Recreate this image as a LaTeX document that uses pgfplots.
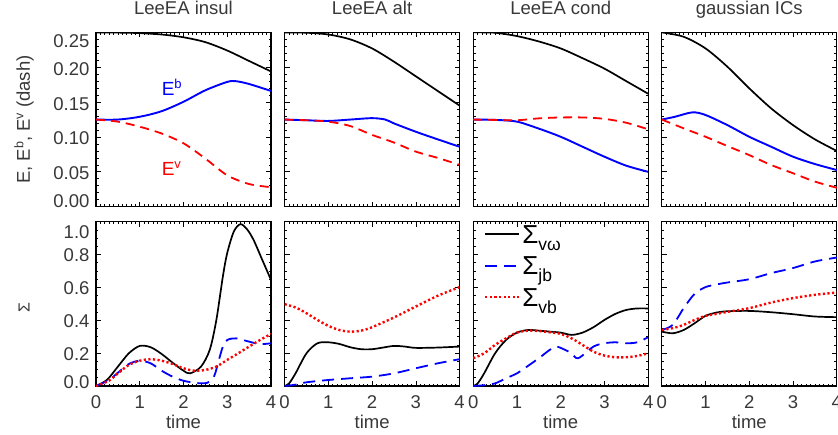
\documentclass[border=0pt]{standalone}
\usepackage{fontspec}
\setmainfont{Liberation Sans}
\usepackage{pgfplots}
\pgfplotsset{compat=1.18}
\definecolor{txt}{gray}{0.22}
\newcommand\yl[2]{\raisebox{#1}[0pt][0pt]{#2}}
\newcommand\sig[1]{{\fontsize{26}{28}\selectfont Σ}\raisebox{-7pt}{\fontsize{17.5}{18}\selectfont #1}}
\newcommand\supx[1]{\raisebox{6.5pt}{\fontsize{12.5}{13}\selectfont #1}}
\pgfplotsset{
 panel/.style={scale only axis, width=175pt, xmin=0, xmax=4, xtick={0,1,2,3,4}, minor x tick num=9,
   tick align=inside, xtick pos=both, ytick pos=both, major tick length=5pt, minor tick length=2.5pt,
   axis line style={line width=1.1pt, black}, every tick/.style={black, line width=0.7pt},
   tick label style={font=\fontsize{18.5}{21}\selectfont, text=txt},
   label style={font=\fontsize{18.5}{21}\selectfont, text=txt},
   title style={font=\fontsize{18.5}{21}\selectfont, text=txt, at={(axis description cs:0.5,1)}, anchor=base, yshift=12pt},
   yticklabel style={anchor=east, xshift=-3pt},
   xticklabel style={anchor=base, yshift=-22.5pt},
   xlabel style={at={(axis description cs:0.5,0)}, anchor=base, yshift=-42pt},
   ylabel style={at={(axis description cs:-0.411,0.5)}, anchor=center},
 },
 top/.style={panel, height=174.3pt, ymin=0, ymax=0.25, ytick={0,0.05,0.1,0.15,0.2,0.25}, minor y tick num=4, xticklabels={}, yticklabels={}},
 bot/.style={panel, height=164.3pt, ymin=0, ymax=1, ytick={0,0.2,0.4,0.6,0.8,1}, minor y tick num=3, xticklabels={0,1,2,3,4}, xlabel={time}, yticklabels={}},
 Eline/.style={black, line width=1.7pt, smooth},
 Ebline/.style={blue, line width=1.9pt, smooth},
 Evline/.style={red, line width=1.8pt, dash pattern=on 9pt off 6pt, smooth},
 vw/.style={black, line width=1.7pt, smooth},
 jb/.style={blue, line width=1.8pt, dash pattern=on 12pt off 7pt, smooth},
 vb/.style={red, line width=2.4pt, dash pattern=on 2.2pt off 2.4pt, smooth},
}
\begin{document}
\begin{tikzpicture}
\useasboundingbox (0pt,0pt) rectangle (838pt,-434pt);
% ---------------- top row ----------------
\begin{axis}[top, at={(96pt,-206.7pt)}, anchor=south west, title={LeeEA insul},
  yticklabels={\yl{-0.5pt}{0.00},\yl{-8pt}{0.05},\yl{-8pt}{0.10},\yl{-8pt}{0.15},\yl{-8pt}{0.20},\yl{-15.5pt}{0.25}},
  ylabel={E, E\supx{b}, E\supx{v} (dash)}]
\addplot[Eline] coordinates {(0,0.25)(0.5,0.2497)(1,0.249)(1.5,0.247)(2,0.243)(2.5,0.236)(3,0.224)(3.5,0.209)(4,0.194)};
\addplot[Ebline] coordinates {(0,0.125)(0.5,0.125)(1,0.129)(1.5,0.137)(2,0.1505)(2.5,0.167)(3,0.179)(3.2,0.180)(3.5,0.176)(4,0.166)};
\addplot[Evline] coordinates {(0,0.125)(0.5,0.122)(1,0.1147)(1.5,0.105)(2,0.091)(2.5,0.069)(3,0.045)(3.5,0.0325)(4,0.028)};
\node[blue, anchor=west, inner sep=0pt, font=\fontsize{19}{21}\selectfont] at (axis cs:1.5,0.171) {E\raisebox{6.5pt}{\fontsize{13}{14}\selectfont b}};
\node[red, anchor=west, inner sep=0pt, font=\fontsize{19}{21}\selectfont] at (axis cs:1.5,0.055) {E\raisebox{6.5pt}{\fontsize{13}{14}\selectfont v}};
\end{axis}
\begin{axis}[top, at={(284.6pt,-206.7pt)}, anchor=south west, title={LeeEA alt}]
\addplot[Eline] coordinates {(0,0.25)(0.5,0.2495)(1,0.247)(1.5,0.240)(2,0.227)(2.5,0.208)(3,0.187)(3.5,0.166)(4,0.145)};
\addplot[Ebline] coordinates {(0,0.125)(0.5,0.124)(1,0.123)(1.5,0.125)(2,0.127)(2.3,0.125)(2.5,0.1195)(3,0.1075)(3.5,0.0966)(4,0.086)};
\addplot[Evline] coordinates {(0,0.125)(0.5,0.124)(1,0.122)(1.5,0.1157)(2,0.103)(2.5,0.092)(3,0.079)(3.5,0.070)(4,0.060)};
\end{axis}
\begin{axis}[top, at={(473.2pt,-206.7pt)}, anchor=south west, title={LeeEA cond}]
\addplot[Eline] coordinates {(0,0.25)(0.5,0.2495)(1,0.2447)(1.5,0.237)(2,0.227)(2.5,0.213)(3,0.198)(3.5,0.180)(4,0.162)};
\addplot[Ebline] coordinates {(0,0.125)(0.5,0.1245)(1,0.122)(1.5,0.112)(2,0.1003)(2.5,0.086)(3,0.0717)(3.5,0.0588)(4,0.050)};
\addplot[Evline] coordinates {(0,0.125)(0.5,0.1245)(1,0.124)(1.5,0.1267)(2,0.128)(2.5,0.128)(3,0.126)(3.5,0.1204)(4,0.111)};
\end{axis}
\begin{axis}[top, at={(661.8pt,-206.7pt)}, anchor=south west, title={gaussian ICs}]
\addplot[Eline] coordinates {(0,0.25)(0.5,0.2437)(1,0.227)(1.5,0.2007)(2,0.1697)(2.5,0.141)(3,0.117)(3.5,0.0966)(4,0.080)};
\addplot[Ebline] coordinates {(0,0.125)(0.3,0.129)(0.7,0.1353)(1,0.1315)(1.5,0.117)(2,0.1003)(2.5,0.086)(3,0.0717)(3.5,0.0612)(4,0.0526)};
\addplot[Evline] coordinates {(0,0.125)(0.5,0.1124)(1,0.1003)(1.5,0.087)(2,0.074)(2.5,0.0598)(3,0.048)(3.5,0.036)(4,0.0272)};
\end{axis}
% ---------------- bottom row ----------------
\begin{axis}[bot, at={(96pt,-386pt)}, anchor=south west,
  yticklabels={\yl{-2pt}{0.0},\yl{-7pt}{0.2},\yl{-7pt}{0.4},\yl{-7pt}{0.6},\yl{-7pt}{0.8},\yl{-16.5pt}{1.0}},
  ylabel={\fontsize{16}{17}\selectfont Σ}, ylabel style={at={(axis description cs:-0.411,0.48)}}]
\addplot[vw] coordinates {(0,0)(0.25,0.037)(0.5,0.118)(0.75,0.199)(1,0.244)(1.25,0.236)(1.5,0.195)(1.75,0.142)(2,0.093)(2.15,0.077)(2.4,0.118)(2.6,0.22)(2.75,0.40)(2.9,0.667)(3,0.81)(3.15,0.94)(3.3,0.985)(3.45,0.955)(3.6,0.89)(3.8,0.768)(4,0.646)};
\addplot[jb] coordinates {(0,0)(0.3,0.037)(0.5,0.081)(0.75,0.134)(1,0.154)(1.25,0.138)(1.5,0.093)(1.75,0.057)(2,0.032)(2.3,0.018)(2.55,0.02)(2.7,0.06)(2.8,0.15)(2.9,0.24)(3,0.28)(3.2,0.29)(3.5,0.27)(3.75,0.255)(4,0.26)};
\addplot[vb] coordinates {(0,0)(0.3,0.033)(0.5,0.077)(0.75,0.128)(1,0.154)(1.25,0.163)(1.5,0.154)(1.75,0.134)(2,0.108)(2.25,0.093)(2.5,0.098)(2.75,0.118)(3,0.159)(3.25,0.199)(3.5,0.24)(3.75,0.28)(4,0.317)};
\end{axis}
\begin{axis}[bot, at={(284.6pt,-386pt)}, anchor=south west]
\addplot[vw] coordinates {(0,0)(0.1,0.015)(0.25,0.077)(0.5,0.199)(0.75,0.26)(1,0.266)(1.25,0.256)(1.5,0.236)(1.75,0.224)(2,0.224)(2.25,0.234)(2.5,0.244)(2.75,0.24)(3,0.232)(3.5,0.234)(4,0.24)};
\addplot[jb] coordinates {(0,0)(0.25,0.008)(0.5,0.0225)(1,0.0366)(1.5,0.047)(2,0.057)(2.5,0.077)(3,0.108)(3.5,0.138)(4,0.163)};
\addplot[vb] coordinates {(0,0.498)(0.25,0.478)(0.5,0.443)(0.75,0.402)(1,0.366)(1.25,0.341)(1.5,0.331)(1.75,0.337)(2,0.358)(2.5,0.417)(3,0.484)(3.5,0.549)(4,0.602)};
\end{axis}
\begin{axis}[bot, at={(473.2pt,-386pt)}, anchor=south west,
  legend image code/.code={\draw[#1] (0pt,1pt) -- (34pt,1pt);},
  legend style={at={(axis description cs:0.06,0.99)}, anchor=north west, draw=none, fill=none, inner sep=0pt, row sep=8pt, nodes={inner sep=2pt, text=black}},
  legend cell align=left]
\addplot[vw] coordinates {(0,0)(0.1,0.015)(0.25,0.077)(0.5,0.199)(0.75,0.28)(1,0.325)(1.25,0.341)(1.5,0.337)(1.75,0.331)(2,0.325)(2.25,0.311)(2.5,0.325)(2.75,0.358)(3,0.402)(3.25,0.439)(3.5,0.463)(3.75,0.472)(4,0.472)};
\addlegendentry{\sig{vω}}
\addplot[jb] coordinates {(0,0)(0.25,0.005)(0.5,0.016)(0.75,0.047)(1,0.077)(1.25,0.122)(1.5,0.169)(1.75,0.22)(1.9,0.24)(2.1,0.22)(2.25,0.199)(2.4,0.169)(2.75,0.24)(3,0.26)(3.25,0.266)(3.5,0.26)(3.75,0.266)(4,0.297)};
\addlegendentry{\sig{jb}}
\addplot[vb] coordinates {(0,0.169)(0.25,0.199)(0.5,0.25)(0.75,0.29)(1,0.325)(1.25,0.337)(1.5,0.335)(1.75,0.327)(2,0.317)(2.25,0.29)(2.5,0.25)(2.75,0.209)(3,0.185)(3.25,0.175)(3.5,0.175)(3.75,0.183)(4,0.199)};
\addlegendentry{\sig{vb}}
\end{axis}
\begin{axis}[bot, at={(661.8pt,-386pt)}, anchor=south west]
\addplot[vw] coordinates {(0,0.331)(0.25,0.321)(0.5,0.341)(0.75,0.382)(1,0.427)(1.25,0.447)(1.5,0.455)(2,0.457)(2.5,0.449)(3,0.437)(3.5,0.423)(4,0.419)};
\addplot[jb] coordinates {(0,0.341)(0.25,0.372)(0.5,0.474)(0.75,0.561)(1,0.602)(1.25,0.618)(1.5,0.63)(2,0.65)(2.5,0.687)(3,0.718)(3.5,0.758)(4,0.782)};
\addplot[vb] coordinates {(0,0.341)(0.25,0.352)(0.5,0.372)(0.75,0.402)(1,0.427)(1.25,0.439)(1.5,0.451)(2,0.474)(2.5,0.508)(3,0.535)(3.5,0.555)(4,0.569)};
\end{axis}
\end{tikzpicture}
\end{document}
